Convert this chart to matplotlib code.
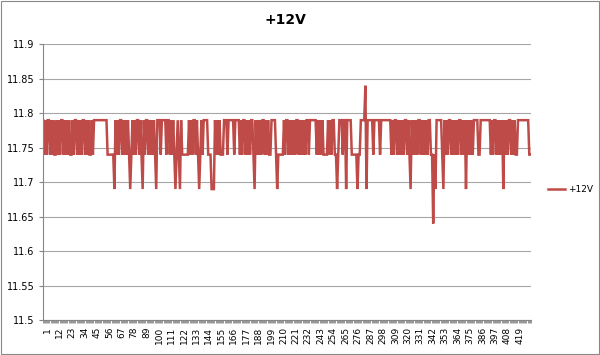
import matplotlib
matplotlib.use("Agg")
import matplotlib.pyplot as plt
import matplotlib.transforms as mtransforms
from matplotlib.patches import Rectangle
import numpy as np

# voltage levels that appear in the trace
levels = {"H": 11.79, "L": 11.74, "D": 11.69, "S": 11.84, "B": 11.64}

# one letter per sample from left to right
segments = [
    "HLHLHHLHLH" "LLHLHLHHLH" "LHLHLLHLHH" "LHLHLHHLHL" "HLLHLHH",  # 1-47
    "HHHHHHHHHH",        # 48-57
    "LLLLLL", "D",       # 58-64
    "HLHLHHLHLH" "LHL",  # 65-77
    "D",                 # 78
    "LHLHLHHLHL", "D",   # 79-89
    "HLHHLHLHLHL", "D",  # 90-101
    "HHHLHHHHLHHL",      # 102-113
    "HLHL", "D", "LHL", "D",  # 114-122
    "HLLLLLL",           # 123-129
    "HLHLHHLHL", "D",    # 130-139
    "LHL", "HHHH", "LLL", "DDD", "H",  # 140-153
    "LHLH", "LLL",       # 154-160
    "HHHLHHHHHLHHHH",    # 161-174
    "LHLHHLHLHLHHL", "D",  # 175-188
    "HLHLHLHHLHLHL",     # 189-201
    "L", "HHHH", "L", "D", "LLLLL", "HLHHL",  # 202-218
    "HLHLHLHHLH" "LHLHLHHLH",  # 219-237
    "HHHHH", "LHLHLH", "LLLL", "HLHLHH",  # 238-258
    "LL", "D", "LH",     # 259-263
    "HHLHH", "D", "HHHH", "LLLLL", "D", "LL", "HHHH",  # 264-285
    "S", "D",            # 286-287
    "HHHHH", "L", "HHHHH", "L", "HHHHHHHH",  # 288-307
    "HLHLHHLHLH" "LHLHHL",  # 308-323
    "HL", "D",           # 324-326
    "HLHLHLHHLH" "LHLHLHHL",  # 327-344
    "L", "B", "L", "D", "HHHH",  # 345-352
    "HL", "D",           # 353-355
    "HLHLHHLHLH" "LHLHHLHLH",  # 356-374
    "D", "HLHLHL", "HHHH", "LL", "HHHHHHHHH",  # 375-396
    "LHLHHLHLHLH", "D",  # 397-408
    "HLHLHHLH", "LHLL", "HHHHHHHHHH", "LL",  # 409-432
]

values = [levels[c] for c in "".join(segments)]
x = np.arange(1, len(values) + 1)

y_ticks = [11.5, 11.55, 11.6, 11.65, 11.7, 11.75, 11.8, 11.85, 11.9]
x_labels = list(range(1, 420, 11))

fig = plt.figure(figsize=(6.0, 3.55), dpi=100)
ax = fig.add_axes([0.071, 0.0986, 0.814, 0.7764])

grid_c = "#a6a6a6"
axis_c = "#868686"

ax.plot(x, values, color="#be4b48", lw=1.8, label="+12V", solid_joinstyle="miter")

ax.set_xlim(0.5, len(values) + 0.5)
ax.set_ylim(11.5, 11.9)
ax.set_yticks(y_ticks)
ax.set_yticklabels(["%g" % round(v, 2) for v in y_ticks], fontsize=7)
ax.yaxis.grid(True, color=grid_c, lw=0.8)
ax.set_axisbelow(True)

ax.set_xticks(x_labels)
ax.set_xticklabels([str(v) for v in x_labels], rotation=90, fontsize=6.5)
ax.set_xticks(np.arange(0.5, len(values) + 1, 1), minor=True)
ax.tick_params(axis="x", which="major", length=0, pad=5)
ax.tick_params(axis="x", which="minor", length=2.5, color=axis_c, width=0.6)
ax.tick_params(axis="y", length=3, color=axis_c, width=0.8, pad=3)

offset = mtransforms.ScaledTranslation(4 / 100, 0, fig.dpi_scale_trans)
for lbl in ax.get_xticklabels():
    lbl.set_transform(lbl.get_transform() + offset)

for side in ["top", "right"]:
    ax.spines[side].set_visible(False)
for side in ["left", "bottom"]:
    ax.spines[side].set_color(axis_c)
    ax.spines[side].set_linewidth(0.8)

fig.text(0.476, 0.945, "+12V", ha="center", va="center", fontsize=10,
         fontweight="bold")

fig.legend(loc="center left", bbox_to_anchor=(0.913, 0.465), frameon=False,
           fontsize=6.5, handlelength=1.9, borderaxespad=0, borderpad=0,
           handletextpad=0.3)

fig.patches.append(Rectangle((0.001, 0.002), 0.997, 0.995, transform=fig.transFigure,
                             fill=False, edgecolor="#888888", lw=0.8))

fig.savefig("out.png", dpi=100)
